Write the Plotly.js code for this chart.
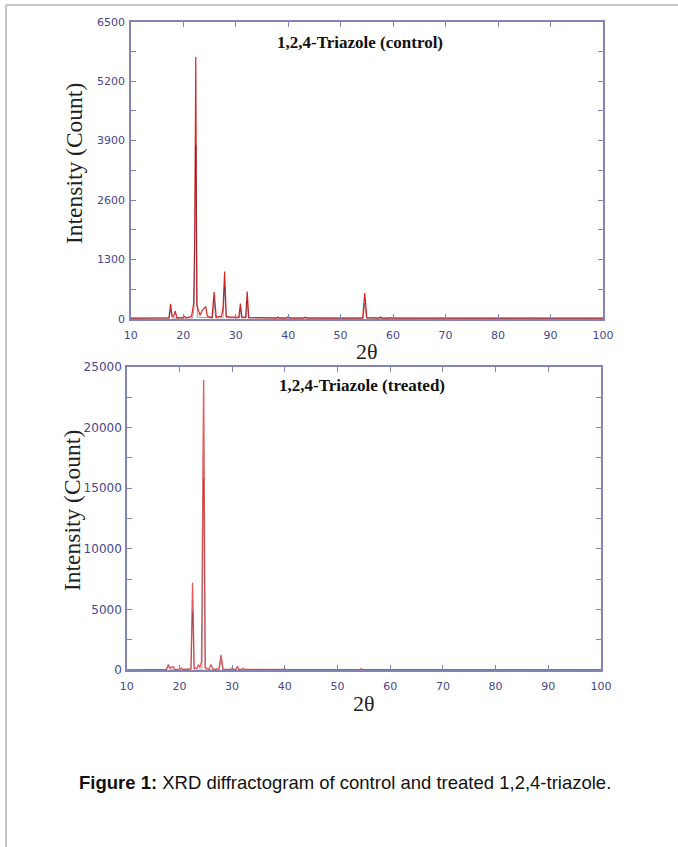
<!DOCTYPE html>
<html>
<head>
<meta charset="utf-8">
<script src="https://cdn.plot.ly/plotly-3.0.1.min.js"></script>
<style>
html,body{margin:0;padding:0;background:#fff;}
#chart{width:678px;height:847px;}
</style>
</head>
<body>
<div id="chart"></div>
<script>
// ---- Data ----
// Control sample, main (red) pattern
var controlX = [10, 17.3, 17.6, 17.9, 18.2, 18.5, 18.8, 19.8, 20.2, 20.6, 21.6, 22.0, 22.2, 22.4, 22.6, 23.2, 23.7, 24.0, 24.3, 24.6, 25.5, 25.9, 26.3, 27.3, 27.6, 27.9, 28.2, 28.8, 30.6, 30.9, 31.2, 31.9, 32.2, 32.5, 37.8, 38.0, 38.3, 39.7, 40.0, 40.4, 43.0, 43.3, 43.6, 54.2, 54.6, 55.0, 57.3, 57.6, 57.9, 59.3, 59.6, 59.9, 100];
var controlY = [20, 25, 330, 60, 60, 170, 25, 25, 60, 25, 60, 350, 1800, 5730, 300, 80, 200, 230, 270, 60, 30, 590, 40, 60, 250, 1040, 60, 40, 40, 340, 40, 40, 600, 30, 20, 45, 20, 20, 50, 20, 20, 40, 20, 20, 570, 30, 20, 45, 20, 20, 30, 20, 20];
// Control sample, secondary (dark) pattern
var controlX2 = [10, 17.3, 17.6, 17.9, 21.8, 22.1, 22.4, 22.7, 25.6, 25.9, 26.2, 27.6, 27.9, 28.2, 30.7, 30.9, 31.1, 32.0, 32.2, 32.4, 54.3, 54.6, 54.9, 100];
var controlY2 = [15, 20, 200, 20, 20, 250, 3800, 40, 25, 400, 25, 25, 700, 25, 25, 220, 25, 25, 400, 25, 20, 350, 20, 15];

// Treated sample, main (red) pattern
var treatedX = [10, 17.5, 17.9, 18.3, 18.6, 18.8, 19.1, 20.0, 20.4, 20.8, 22.2, 22.5, 22.8, 23.3, 23.6, 23.9, 24.2, 24.6, 24.9, 25.6, 26.0, 26.4, 27.5, 27.9, 28.3, 29.7, 30.0, 30.3, 30.7, 31.0, 31.3, 31.8, 32.1, 32.4, 39.7, 40.0, 40.3, 54.2, 54.5, 54.8, 100];
var treatedY = [0, 40, 450, 150, 250, 260, 40, 40, 150, 40, 100, 7200, 150, 150, 400, 200, 700, 23900, 200, 50, 450, 50, 100, 1250, 60, 40, 150, 40, 40, 300, 40, 40, 150, 40, 40, 100, 30, 30, 100, 30, 20];
// Treated sample, secondary (dark) pattern
var treatedX2 = [10, 17.6, 17.9, 18.2, 22.2, 22.5, 22.8, 24.3, 24.6, 24.9, 27.6, 27.9, 28.2, 100];
var treatedY2 = [0, 20, 300, 20, 20, 4800, 20, 20, 15800, 20, 20, 800, 20, 0];

var xTickVals = [10, 20, 30, 40, 50, 60, 70, 80, 90, 100];
var controlTickVals = [0, 1300, 2600, 3900, 5200, 6500];
var treatedTickVals = [0, 5000, 10000, 15000, 20000, 25000];

var W = 678, H = 847;
function px(x){ return x / W; }
function py(y){ return 1 - y / H; }

var axisColor = '#8484b4';
var tickColor = '#46468a';
var serif = 'Liberation Serif, Times New Roman, serif';

function xAxis(domain, anchor){
  return {
    domain: domain, anchor: anchor, range: [10, 100],
    tickvals: xTickVals, ticktext: xTickVals.map(String),
    ticks: 'inside', ticklen: 5, tickcolor: axisColor, tickwidth: 1,
    showline: true, linecolor: axisColor, linewidth: 1.5, mirror: 'ticks',
    showgrid: false, zeroline: false,
    tickfont: {family: 'DejaVu Sans', size: 11, color: tickColor},
    ticklabelstandoff: 5, fixedrange: true
  };
}
function yAxis(domain, anchor, range, vals, minorStep, fs, so){
  return {
    domain: domain, anchor: anchor, range: range,
    tickvals: vals, ticktext: vals.map(String),
    ticks: 'inside', ticklen: 5, tickcolor: axisColor, tickwidth: 1,
    minor: {dtick: minorStep, tick0: 0, ticks: 'inside', ticklen: 5, tickcolor: axisColor},
    showline: true, linecolor: axisColor, linewidth: 1.5, mirror: 'ticks',
    showgrid: false, zeroline: false,
    tickfont: {family: 'DejaVu Sans', size: fs, color: tickColor},
    ticklabelstandoff: so, fixedrange: true
  };
}

var traces = [
  {x: controlX, y: controlY, type: 'scatter', mode: 'lines', xaxis: 'x', yaxis: 'y',
   line: {color: '#d42828', width: 1.2}, hoverinfo: 'skip'},
  {x: controlX2, y: controlY2, type: 'scatter', mode: 'lines', xaxis: 'x', yaxis: 'y',
   line: {color: '#4a1e3a', width: 1}, opacity: 0.45, hoverinfo: 'skip'},
  {x: treatedX, y: treatedY, type: 'scatter', mode: 'lines', xaxis: 'x2', yaxis: 'y2',
   line: {color: '#e06060', width: 1.4}, hoverinfo: 'skip'},
  {x: treatedX2, y: treatedY2, type: 'scatter', mode: 'lines', xaxis: 'x2', yaxis: 'y2',
   line: {color: '#6a2a3a', width: 1}, opacity: 0.35, hoverinfo: 'skip'}
];

var layout = {
  width: W, height: H,
  margin: {l: 0, r: 0, t: 0, b: 0},
  paper_bgcolor: '#ffffff', plot_bgcolor: '#ffffff',
  showlegend: false,
  xaxis: xAxis([px(130.7), px(603)], 'y'),
  yaxis: yAxis([py(319), py(21.7)], 'x', [0, 6500], controlTickVals, 650, 11, 2),
  xaxis2: xAxis([px(126.7), px(601)], 'y2'),
  yaxis2: yAxis([py(670), py(366.7)], 'x2', [0, 25000], treatedTickVals, 2500, 12, 1),
  annotations: [
    {text: '<b>1,2,4-Triazole (control)</b>', xref: 'paper', yref: 'paper', x: px(360), y: py(42),
     xanchor: 'center', yanchor: 'middle', showarrow: false, font: {family: serif, size: 17, color: '#111'}},
    {text: '<b>1,2,4-Triazole (treated)</b>', xref: 'paper', yref: 'paper', x: px(362), y: py(385),
     xanchor: 'center', yanchor: 'middle', showarrow: false, font: {family: serif, size: 17, color: '#111'}},
    {text: 'Intensity (Count)', xref: 'paper', yref: 'paper', x: px(74), y: py(164), textangle: -90,
     xanchor: 'center', yanchor: 'middle', showarrow: false, font: {family: serif, size: 23.5, color: '#222'}},
    {text: 'Intensity (Count)', xref: 'paper', yref: 'paper', x: px(72), y: py(511), textangle: -90,
     xanchor: 'center', yanchor: 'middle', showarrow: false, font: {family: serif, size: 23.5, color: '#222'}},
    {text: '2θ', xref: 'paper', yref: 'paper', x: px(367), y: py(351),
     xanchor: 'center', yanchor: 'middle', showarrow: false, font: {family: serif, size: 22, color: '#222'}},
    {text: '2θ', xref: 'paper', yref: 'paper', x: px(364), y: py(703),
     xanchor: 'center', yanchor: 'middle', showarrow: false, font: {family: serif, size: 22, color: '#222'}},
    {text: '<b>Figure 1:</b> XRD diffractogram of control and treated 1,2,4-triazole.', xref: 'paper', yref: 'paper',
     x: px(345), y: py(782), xanchor: 'center', yanchor: 'middle', showarrow: false,
     font: {family: 'Liberation Sans, Arial, sans-serif', size: 18.5, color: '#111'}}
  ],
  shapes: [
    {type: 'line', xref: 'paper', yref: 'paper', x0: px(6), x1: 1, y0: py(5), y1: py(5),
     line: {color: '#c4c4c4', width: 2}},
    {type: 'line', xref: 'paper', yref: 'paper', x0: px(6), x1: px(6), y0: py(5), y1: 0,
     line: {color: '#c4c4c4', width: 2}}
  ]
};

Plotly.newPlot('chart', traces, layout, {displayModeBar: false, staticPlot: true});
</script>
</body>
</html>
